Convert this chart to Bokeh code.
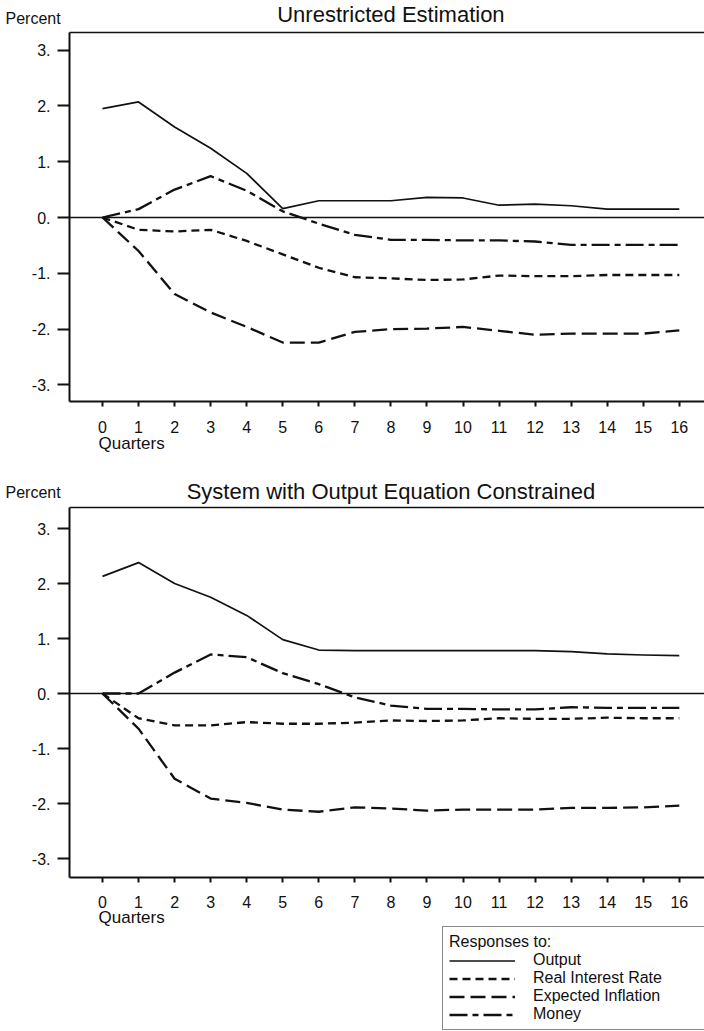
from bokeh.plotting import figure
from bokeh.models import Range1d, FixedTicker, LinearAxis, Label
from bokeh.layouts import column
from bokeh.embed import file_html
from bokeh.resources import INLINE

# ---------------- data ----------------
quarters = list(range(17))
x_tick_labels = [str(q) for q in quarters]
y_ticks = [-3, -2, -1, 0, 1, 2, 3]
y_tick_labels = ["-3.", "-2.", "-1.", "0.", "1.", "2.", "3."]

panel_titles = ["Unrestricted Estimation", "System with Output Equation Constrained"]
series_names = ["Output", "Real Interest Rate", "Expected Inflation", "Money"]

# Unrestricted estimation
output_u = [1.95, 2.07, 1.62, 1.24, 0.79, 0.16, 0.30, 0.30, 0.30, 0.36, 0.35, 0.22, 0.24, 0.21, 0.15, 0.15, 0.15]
real_u = [0.0, -0.22, -0.25, -0.22, -0.42, -0.66, -0.90, -1.07, -1.09, -1.12, -1.11, -1.04, -1.05, -1.05, -1.03, -1.03, -1.03]
expinf_u = [0.0, -0.60, -1.37, -1.70, -1.96, -2.24, -2.24, -2.05, -2.00, -1.99, -1.96, -2.03, -2.10, -2.08, -2.08, -2.08, -2.02]
money_u = [0.0, 0.15, 0.50, 0.74, 0.48, 0.11, -0.11, -0.31, -0.40, -0.40, -0.41, -0.41, -0.43, -0.49, -0.49, -0.49, -0.49]

# System with output equation constrained
output_c = [2.13, 2.38, 2.00, 1.75, 1.42, 0.98, 0.79, 0.78, 0.78, 0.78, 0.78, 0.78, 0.78, 0.76, 0.72, 0.70, 0.69]
real_c = [0.0, -0.45, -0.58, -0.58, -0.52, -0.55, -0.55, -0.53, -0.49, -0.50, -0.49, -0.45, -0.46, -0.46, -0.44, -0.45, -0.45]
expinf_c = [0.0, -0.64, -1.55, -1.91, -1.99, -2.11, -2.15, -2.07, -2.09, -2.13, -2.11, -2.11, -2.11, -2.08, -2.08, -2.07, -2.04]
money_c = [0.0, 0.0, 0.38, 0.71, 0.66, 0.37, 0.17, -0.07, -0.22, -0.28, -0.28, -0.29, -0.29, -0.25, -0.26, -0.26, -0.26]

# ---------------- style / geometry ----------------
FONT = "Liberation Sans"
INK = "#111111"
W = 704
PX_PER_Q = 36.05          # pixels per quarter
X0_PX = 102               # pixel position of quarter 0
X_START = -X0_PX / PX_PER_Q
X_END = (W - X0_PX) / PX_PER_Q
X_AXIS_START = -0.915     # where the left axis sits (in quarters)

line_styles = {
    "Output": dict(line_dash="solid", line_width=1.7),
    "Real Interest Rate": dict(line_dash="8 5", line_width=2.3),
    "Expected Inflation": dict(line_dash="15 6", line_width=2.3),
    "Money": dict(line_dash="18 5 6 5", line_width=2.3),
}


def make_panel(title, series, H, zero_px, px_per_unit, ybounds, title_mid, pct_mid,
               quarters_mid, with_legend):
    y_end = zero_px / px_per_unit
    y_start = -(H - zero_px) / px_per_unit
    p = figure(width=W, height=H, output_backend="svg", toolbar_location=None,
               x_range=Range1d(X_START, X_END), y_range=Range1d(y_start, y_end),
               min_border_left=0, min_border_right=0, min_border_top=0, min_border_bottom=0)
    p.outline_line_color = None
    p.xgrid.visible = False
    p.ygrid.visible = False
    p.background_fill_color = "white"
    p.border_fill_color = "white"

    # bottom axis
    xa = p.xaxis[0]
    xa.fixed_location = ybounds[0]
    xa.bounds = (X_AXIS_START, X_END)
    xa.ticker = FixedTicker(ticks=quarters)
    xa.major_label_overrides = {q: lab for q, lab in zip(quarters, x_tick_labels)}
    xa.minor_tick_line_color = None
    xa.major_tick_in = 0
    xa.major_tick_out = 5
    xa.major_tick_line_width = 2
    xa.major_tick_line_color = INK
    xa.axis_line_width = 2
    xa.axis_line_color = INK
    xa.major_label_standoff = 14
    xa.major_label_text_font = FONT
    xa.major_label_text_font_size = "16px"
    xa.major_label_text_color = INK

    # left axis
    ya = p.yaxis[0]
    ya.fixed_location = X_AXIS_START
    ya.bounds = ybounds
    ya.ticker = FixedTicker(ticks=y_ticks)
    ya.major_label_overrides = {float(t): lab for t, lab in zip(y_ticks, y_tick_labels)}
    ya.minor_tick_line_color = None
    ya.major_tick_in = 0
    ya.major_tick_out = 12
    ya.major_tick_line_width = 2
    ya.major_tick_line_color = INK
    ya.axis_line_width = 2
    ya.axis_line_color = INK
    ya.major_label_standoff = 7
    ya.major_label_text_font = FONT
    ya.major_label_text_font_size = "16px"
    ya.major_label_text_color = INK

    # top frame line and zero line, drawn as tick-less axes
    top_axis = LinearAxis(fixed_location=ybounds[1], bounds=(X_AXIS_START, X_END),
                          ticker=FixedTicker(ticks=[]), axis_line_width=1.5,
                          axis_line_color=INK, major_tick_line_color=None,
                          minor_tick_line_color=None)
    p.add_layout(top_axis, "above")
    zero_axis = LinearAxis(fixed_location=0, bounds=(X_AXIS_START, X_END),
                           ticker=FixedTicker(ticks=[]), axis_line_width=1.5,
                           axis_line_color=INK, major_tick_line_color=None,
                           minor_tick_line_color=None)
    p.add_layout(zero_axis, "below")

    for name, vals in zip(series_names, series):
        kw = dict(line_color=INK, line_join="round", **line_styles[name])
        if with_legend:
            kw["legend_label"] = name
        p.line(quarters, vals, **kw)

    # texts (screen y measured from the bottom of the figure)
    p.add_layout(Label(x=8, y=H - title_mid, x_units="data", y_units="screen",
                       text=title, text_align="center", text_baseline="middle",
                       text_font=FONT, text_font_size="22px", text_color=INK))
    p.add_layout(Label(x=5, y=H - pct_mid, x_units="screen", y_units="screen",
                       text="Percent", text_align="left", text_baseline="middle",
                       text_font=FONT, text_font_size="16px", text_color=INK))
    p.add_layout(Label(x=0, y=H - quarters_mid, x_units="data", y_units="screen", x_offset=-4,
                       text="Quarters", text_align="left", text_baseline="middle",
                       text_font=FONT, text_font_size="17px", text_color=INK))

    if with_legend:
        lg = p.legend[0]
        lg.location = (442, 0)
        lg.title = "Responses to:"
        lg.title_text_font = FONT
        lg.title_text_font_size = "16px"
        lg.title_text_font_style = "normal"
        lg.title_text_color = INK
        lg.title_standoff = 0
        lg.label_text_font = FONT
        lg.label_text_font_size = "16px"
        lg.label_text_color = INK
        lg.label_standoff = 18
        lg.label_width = 200
        lg.label_height = 17
        lg.glyph_width = 66
        lg.glyph_height = 17
        lg.spacing = 0
        lg.padding = 6
        lg.margin = 0
        lg.border_line_color = INK
        lg.border_line_width = 1.2
        lg.background_fill_color = "white"
        lg.background_fill_alpha = 1.0
    return p


p1 = make_panel(panel_titles[0], [output_u, real_u, expinf_u, money_u],
                H=452, zero_px=217, px_per_unit=55.83, ybounds=(-3.30, 3.32),
                title_mid=14, pct_mid=18, quarters_mid=443, with_legend=False)
p2 = make_panel(panel_titles[1], [output_c, real_c, expinf_c, money_c],
                H=578, zero_px=241, px_per_unit=55.0, ybounds=(-3.345, 3.38),
                title_mid=39, pct_mid=40, quarters_mid=465, with_legend=True)

layout = column(p1, p2, spacing=0)
open("out.html", "w").write(file_html(layout, INLINE))
